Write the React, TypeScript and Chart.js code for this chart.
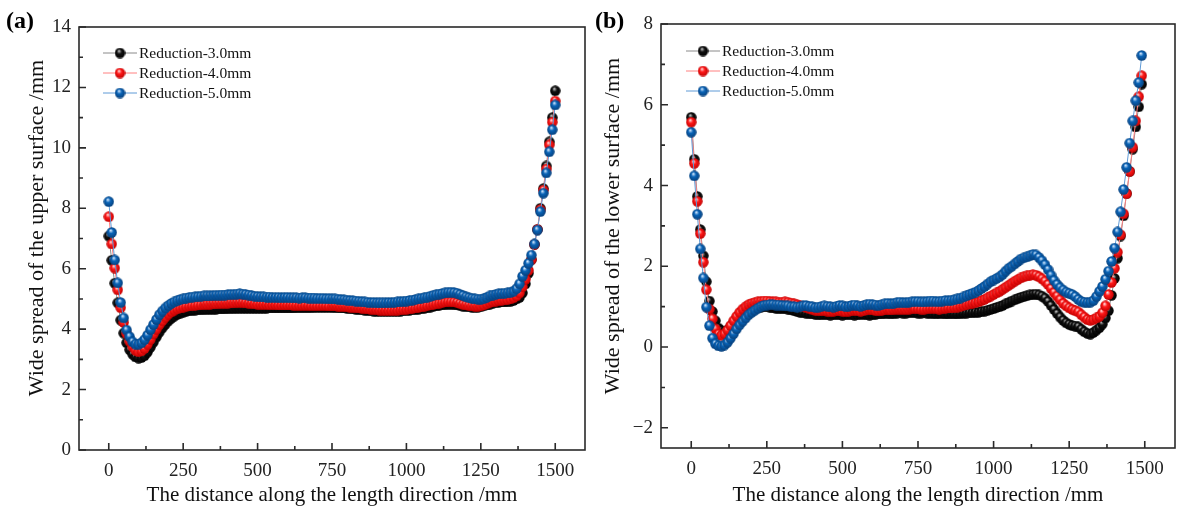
import React, { useEffect, useRef } from "react";
import { Chart, registerables } from "chart.js";

Chart.register(...registerables);

// sampling positions along the strip, mm
const distance = [
  0, 10, 20, 30, 40, 50, 60, 70, 80, 90,
  100, 110, 120, 130, 140, 150, 160, 170, 180, 190,
  200, 210, 220, 230, 240, 250, 260, 270, 280, 290,
  300, 310, 320, 330, 340, 350, 360, 370, 380, 390,
  400, 410, 420, 430, 440, 450, 460, 470, 480, 490,
  500, 510, 520, 530, 540, 550, 560, 570, 580, 590,
  600, 610, 620, 630, 640, 650, 660, 670, 680, 690,
  700, 710, 720, 730, 740, 750, 760, 770, 780, 790,
  800, 810, 820, 830, 840, 850, 860, 870, 880, 890,
  900, 910, 920, 930, 940, 950, 960, 970, 980, 990,
  1000, 1010, 1020, 1030, 1040, 1050, 1060, 1070, 1080, 1090,
  1100, 1110, 1120, 1130, 1140, 1150, 1160, 1170, 1180, 1190,
  1200, 1210, 1220, 1230, 1240, 1250, 1260, 1270, 1280, 1290,
  1300, 1310, 1320, 1330, 1340, 1350, 1360, 1370, 1380, 1390,
  1400, 1410, 1420, 1430, 1440, 1450, 1460, 1470, 1480, 1490,
  1500,
];
const distanceLower = distance.slice(0, 150);

// (a) upper surface
const upper30 = [
  7.08, 6.28, 5.52, 4.87, 4.3, 3.87, 3.55, 3.32, 3.17, 3.08,
  3.04, 3.06, 3.12, 3.24, 3.4, 3.57, 3.74, 3.9, 4.04, 4.16,
  4.27, 4.36, 4.43, 4.49, 4.53, 4.56, 4.59, 4.61, 4.62, 4.63,
  4.64, 4.64, 4.65, 4.65, 4.66, 4.66, 4.66, 4.67, 4.67, 4.67,
  4.68, 4.68, 4.68, 4.69, 4.69, 4.69, 4.69, 4.69, 4.69, 4.69,
  4.69, 4.69, 4.69, 4.69, 4.7, 4.7, 4.7, 4.7, 4.7, 4.7,
  4.7, 4.7, 4.7, 4.71, 4.71, 4.71, 4.71, 4.71, 4.71, 4.72,
  4.72, 4.72, 4.72, 4.72, 4.72, 4.72, 4.71, 4.71, 4.7, 4.7,
  4.69, 4.68, 4.67, 4.66, 4.65, 4.64, 4.63, 4.62, 4.61, 4.6,
  4.6, 4.59, 4.59, 4.59, 4.59, 4.59, 4.59, 4.6, 4.6, 4.61,
  4.62, 4.63, 4.64, 4.65, 4.66, 4.68, 4.69, 4.71, 4.73, 4.75,
  4.77, 4.79, 4.8, 4.81, 4.82, 4.82, 4.81, 4.8, 4.78, 4.76,
  4.75, 4.74, 4.73, 4.73, 4.73, 4.74, 4.77, 4.8, 4.83, 4.86,
  4.88, 4.89, 4.9, 4.9, 4.91, 4.92, 4.95, 5.0, 5.05, 5.2,
  5.5, 5.85, 6.3, 6.8, 7.3, 8.0, 8.65, 9.4, 10.2, 11.0,
  11.89,
];
const upper40 = [
  7.72, 6.82, 6.02, 5.3, 4.71, 4.22, 3.85, 3.6, 3.42, 3.3,
  3.25, 3.28, 3.36, 3.5, 3.66, 3.84, 4.0, 4.15, 4.28, 4.4,
  4.5, 4.57, 4.63, 4.67, 4.7, 4.73, 4.75, 4.77, 4.78, 4.79,
  4.8, 4.81, 4.82, 4.82, 4.83, 4.84, 4.84, 4.85, 4.85, 4.86,
  4.86, 4.87, 4.87, 4.88, 4.88, 4.88, 4.87, 4.86, 4.85, 4.84,
  4.83, 4.83, 4.82, 4.82, 4.81, 4.81, 4.81, 4.8, 4.8, 4.8,
  4.8, 4.8, 4.79, 4.79, 4.79, 4.79, 4.79, 4.79, 4.78, 4.78,
  4.78, 4.78, 4.78, 4.78, 4.77, 4.77, 4.77, 4.76, 4.75, 4.75,
  4.74, 4.73, 4.72, 4.71, 4.7, 4.69, 4.68, 4.67, 4.66, 4.65,
  4.64, 4.63, 4.63, 4.62, 4.62, 4.62, 4.63, 4.63, 4.64, 4.65,
  4.66, 4.67, 4.69, 4.7, 4.72, 4.74, 4.76, 4.78, 4.8, 4.82,
  4.84, 4.86, 4.88, 4.9, 4.91, 4.91, 4.9, 4.88, 4.85, 4.82,
  4.8, 4.78, 4.77, 4.76, 4.76, 4.77, 4.8, 4.84, 4.88, 4.91,
  4.93, 4.95, 4.96, 4.97, 4.98, 5.0, 5.04, 5.1, 5.2, 5.4,
  5.65, 5.95, 6.3, 6.8, 7.3, 7.95, 8.6, 9.3, 10.1, 10.85,
  11.55,
];
const upper50 = [
  8.22, 7.2, 6.29, 5.53, 4.88, 4.37, 3.97, 3.75, 3.58, 3.5,
  3.5, 3.55, 3.65, 3.8, 3.98, 4.15, 4.32, 4.48, 4.6, 4.7,
  4.78, 4.85, 4.9, 4.94, 4.98, 5.0, 5.03, 5.05, 5.06, 5.07,
  5.08, 5.09, 5.1, 5.1, 5.1, 5.11, 5.12, 5.12, 5.13, 5.13,
  5.14, 5.15, 5.15, 5.16, 5.17, 5.16, 5.15, 5.13, 5.11, 5.09,
  5.08, 5.07, 5.07, 5.06, 5.06, 5.05, 5.05, 5.05, 5.04, 5.05,
  5.05, 5.04, 5.04, 5.04, 5.03, 5.04, 5.04, 5.03, 5.03, 5.03,
  5.02, 5.02, 5.02, 5.01, 5.01, 5.0, 5.0, 4.99, 4.98, 4.97,
  4.96, 4.95, 4.94, 4.93, 4.92, 4.91, 4.9, 4.89, 4.88, 4.88,
  4.87, 4.87, 4.87, 4.87, 4.88, 4.88, 4.89, 4.9, 4.91, 4.92,
  4.93, 4.95, 4.96, 4.98, 5.0, 5.02, 5.04, 5.06, 5.09, 5.12,
  5.14, 5.16, 5.18, 5.2, 5.22, 5.22, 5.21, 5.19, 5.15, 5.11,
  5.07, 5.04, 5.02, 5.0, 4.99, 4.99, 5.01, 5.05, 5.1, 5.13,
  5.15, 5.17, 5.18, 5.19, 5.2, 5.22, 5.26, 5.34, 5.5, 5.75,
  5.95, 6.18, 6.45, 6.82, 7.28, 7.89, 8.5, 9.17, 9.87, 10.6,
  11.42,
];

// (b) lower surface
const lower30 = [
  5.69, 4.65, 3.73, 2.91, 2.26, 1.62, 1.14, 0.88, 0.65, 0.47,
  0.4, 0.38, 0.42, 0.5, 0.58, 0.66, 0.74, 0.8, 0.85, 0.89,
  0.93, 0.96, 0.98, 0.99, 1.0, 1.0, 0.99, 0.97, 0.96, 0.95,
  0.95, 0.95, 0.94, 0.92, 0.9, 0.88, 0.86, 0.85, 0.84, 0.83,
  0.82, 0.81, 0.8, 0.8, 0.81, 0.8, 0.79, 0.8, 0.81, 0.8,
  0.79, 0.8, 0.81, 0.8, 0.79, 0.8, 0.81, 0.81, 0.8, 0.79,
  0.8, 0.81, 0.82, 0.82, 0.83, 0.83, 0.82, 0.83, 0.84, 0.85,
  0.84, 0.84, 0.85, 0.86, 0.85, 0.84, 0.84, 0.85, 0.84, 0.83,
  0.83, 0.82, 0.83, 0.83, 0.82, 0.82, 0.83, 0.82, 0.82, 0.83,
  0.84, 0.84, 0.85, 0.85, 0.86, 0.86, 0.88, 0.89, 0.91, 0.93,
  0.95, 0.98, 1.0, 1.03, 1.07, 1.1, 1.14, 1.17, 1.2, 1.23,
  1.25, 1.27, 1.29, 1.3, 1.31, 1.29, 1.26, 1.21, 1.13, 1.03,
  0.93, 0.83, 0.74, 0.66, 0.6, 0.56, 0.53, 0.52, 0.5, 0.44,
  0.38, 0.34, 0.32, 0.36, 0.42, 0.48, 0.57, 0.72, 0.9, 1.28,
  1.7, 2.2, 2.75, 3.25, 3.8, 4.35, 4.9, 5.45, 5.95, 6.51,
];
const lower40 = [
  5.57, 4.55, 3.61, 2.81, 2.1, 1.42, 0.94, 0.7, 0.45, 0.32,
  0.29, 0.33, 0.42, 0.53, 0.65, 0.76, 0.86, 0.94, 1.0, 1.05,
  1.08, 1.1, 1.12, 1.13, 1.14, 1.14, 1.13, 1.12, 1.12, 1.11,
  1.11, 1.12, 1.11, 1.09, 1.07, 1.05, 1.03, 1.01, 0.98, 0.96,
  0.93, 0.91, 0.9, 0.9, 0.9, 0.89, 0.88, 0.89, 0.9, 0.9,
  0.89, 0.88, 0.89, 0.9, 0.91, 0.9, 0.89, 0.9, 0.92, 0.93,
  0.92, 0.9, 0.9, 0.91, 0.92, 0.93, 0.92, 0.93, 0.94, 0.94,
  0.93, 0.93, 0.94, 0.95, 0.95, 0.95, 0.94, 0.94, 0.95, 0.96,
  0.96, 0.95, 0.94, 0.95, 0.96, 0.97, 0.97, 0.98, 0.99, 1.01,
  1.03, 1.05, 1.07, 1.09, 1.1, 1.12, 1.15, 1.18, 1.22, 1.26,
  1.3, 1.34, 1.38, 1.43, 1.48, 1.53, 1.58, 1.63, 1.67, 1.71,
  1.74, 1.76, 1.78, 1.79, 1.78, 1.74, 1.69, 1.63, 1.55, 1.45,
  1.35, 1.26, 1.17, 1.08, 1.02, 0.97, 0.93, 0.9, 0.87, 0.8,
  0.74, 0.68, 0.66, 0.68, 0.72, 0.76, 0.85, 1.02, 1.3, 1.6,
  1.95, 2.35, 2.78, 3.3, 3.8, 4.35, 4.95, 5.6, 6.2, 6.72,
];
const lower50 = [
  5.32, 4.24, 3.29, 2.43, 1.71, 0.99, 0.53, 0.22, 0.08, 0.03,
  0.02, 0.05, 0.12, 0.22, 0.33, 0.45, 0.55, 0.64, 0.72, 0.8,
  0.86, 0.91, 0.96, 1.0, 1.03, 1.04, 1.05, 1.05, 1.04, 1.04,
  1.03, 1.02, 1.02, 1.0, 1.0, 0.99, 1.0, 1.02, 1.03, 1.01,
  1.0, 0.98, 0.99, 1.0, 1.02, 1.01, 1.0, 0.99, 1.01, 1.03,
  1.02, 1.0, 1.01, 1.03, 1.04, 1.02, 1.01, 1.03, 1.05, 1.06,
  1.05, 1.04, 1.03, 1.05, 1.07, 1.08, 1.07, 1.08, 1.1, 1.11,
  1.1, 1.1, 1.11, 1.12, 1.13, 1.13, 1.12, 1.12, 1.13, 1.14,
  1.14, 1.13, 1.13, 1.14, 1.15, 1.15, 1.16, 1.17, 1.19, 1.21,
  1.24, 1.27, 1.3, 1.33, 1.36, 1.4, 1.45, 1.5, 1.56, 1.62,
  1.66, 1.7, 1.74, 1.8, 1.88, 1.95, 2.0, 2.06, 2.12, 2.18,
  2.21, 2.23, 2.26, 2.29, 2.28, 2.22, 2.14, 2.04, 1.92, 1.78,
  1.65, 1.55, 1.47, 1.41, 1.36, 1.33, 1.3, 1.25, 1.18, 1.13,
  1.11, 1.1, 1.11, 1.15, 1.25, 1.38, 1.5, 1.68, 1.88, 2.12,
  2.45, 2.85, 3.35, 3.9, 4.45, 5.05, 5.6, 6.1, 6.55, 7.22,
];

const seriesNames = ["Reduction-3.0mm", "Reduction-4.0mm", "Reduction-5.0mm"];
const xTicks = [0, 250, 500, 750, 1000, 1250, 1500];
const upperTicks = [0, 2, 4, 6, 8, 10, 12, 14];
const lowerTicks = [-2, 0, 2, 4, 6, 8];

const FONT = "'Liberation Serif', 'Times New Roman', serif";

// marker: [sphere base, highlight, shadow, connecting line]
const palette = [
  ["#111111", "#c8c8c8", "#000000", "#8a8a8a"],
  ["#ff1a1a", "#ffe0e0", "#c00000", "#ff8080"],
  ["#0a64b8", "#d6eaff", "#063f7a", "#5f9ad6"],
];

function makeSphere(base: string, light: string, dark: string, size: number) {
  const c = document.createElement("canvas");
  c.width = size;
  c.height = size;
  const g = c.getContext("2d")!;
  const r = size / 2;
  const grad = g.createRadialGradient(r * 0.8, r * 0.6, r * 0.05, r, r, r);
  grad.addColorStop(0, light);
  grad.addColorStop(0.4, base);
  grad.addColorStop(1, dark);
  g.fillStyle = grad;
  g.beginPath();
  g.arc(r, r, r - 0.3, 0, Math.PI * 2);
  g.fill();
  return c;
}

interface PanelProps {
  tag: string;
  xs: number[];
  series: number[][];
  yMin: number;
  yMax: number;
  yTicks: number[];
  yTitle: string;
  width: number;
  yAxisWidth: number;
  xAxisHeight: number;
  padTop: number;
  padRight: number;
  yTitleX: number;
  yTitleY: number;
  tagX: number;
  legendX: number;
  legendY: number;
}

function Panel(p: PanelProps) {
  const ref = useRef<HTMLCanvasElement | null>(null);

  useEffect(() => {
    if (!ref.current) return;
    const spheres = palette.map((c) => makeSphere(c[0], c[1], c[2], 11));

    const frame = {
      id: "frame",
      afterDraw(chart: any) {
        const { ctx, chartArea: a } = chart;
        const sx = chart.scales.x;
        const sy = chart.scales.y;
        ctx.save();
        ctx.strokeStyle = "#2a2a2a";
        ctx.lineWidth = 1.6;
        ctx.strokeRect(a.left, a.top, a.right - a.left, a.bottom - a.top);
        ctx.beginPath();
        xTicks.forEach((v, i) => {
          const px = sx.getPixelForValue(v);
          ctx.moveTo(px, a.bottom);
          ctx.lineTo(px, a.bottom - 7);
          if (i < xTicks.length - 1) {
            const m = sx.getPixelForValue((v + xTicks[i + 1]) / 2);
            ctx.moveTo(m, a.bottom);
            ctx.lineTo(m, a.bottom - 4);
          }
        });
        const ys = p.yTicks;
        const minors = ys.slice(0, -1).map((v, i) => (v + ys[i + 1]) / 2);
        minors.push(ys[0] - (ys[1] - ys[0]) / 2);
        ys.forEach((v) => {
          const py = sy.getPixelForValue(v);
          ctx.moveTo(a.left, py);
          ctx.lineTo(a.left + 7, py);
        });
        minors.forEach((v) => {
          if (v < p.yMin || v > p.yMax) return;
          const py = sy.getPixelForValue(v);
          ctx.moveTo(a.left, py);
          ctx.lineTo(a.left + 4, py);
        });
        ctx.stroke();

        // y title, set a little above the axis centre as in the figure
        ctx.save();
        ctx.translate(p.yTitleX, p.yTitleY);
        ctx.rotate(-Math.PI / 2);
        ctx.font = `22px ${FONT}`;
        ctx.fillStyle = "#111";
        ctx.textAlign = "center";
        ctx.textBaseline = "middle";
        ctx.fillText(p.yTitle, 0, 0);
        ctx.restore();

        // legend
        ctx.font = `15.5px ${FONT}`;
        ctx.textBaseline = "middle";
        ctx.textAlign = "left";
        seriesNames.forEach((name, i) => {
          const y = p.legendY + i * 20;
          ctx.strokeStyle = palette[i][3];
          ctx.lineWidth = 1;
          ctx.beginPath();
          ctx.moveTo(p.legendX, y);
          ctx.lineTo(p.legendX + 34, y);
          ctx.stroke();
          ctx.drawImage(spheres[i], p.legendX + 17 - 5.5, y - 5.5);
          ctx.fillStyle = "#111";
          ctx.fillText(name, p.legendX + 36, y + 1);
        });

        ctx.font = `bold 24px ${FONT}`;
        ctx.fillStyle = "#000";
        ctx.fillText(p.tag, p.tagX, 22);
        ctx.restore();
      },
    };

    const datasets = p.series.map((vals, i) => ({
      label: seriesNames[i],
      data: p.xs.map((x, j) => ({ x, y: vals[j] })),
      borderColor: palette[i][3],
      borderWidth: 1,
      pointStyle: spheres[i] as any,
      pointRadius: 5.5,
      showLine: true,
      tension: 0,
      order: 3 - i,
    }));

    const chart = new Chart(ref.current, {
      type: "line",
      data: { datasets },
      plugins: [frame],
      options: {
        responsive: false,
        animation: false,
        events: [],
        layout: {
          padding: { left: 0, top: p.padTop, right: p.padRight, bottom: 0 },
        },
        plugins: { legend: { display: false }, tooltip: { enabled: false } },
        scales: {
          x: {
            type: "linear",
            min: -100,
            max: 1600,
            afterBuildTicks: (s: any) => {
              s.ticks = xTicks.map((v) => ({ value: v }));
            },
            afterFit: (s: any) => {
              s.height = p.xAxisHeight;
            },
            grid: { display: false, drawTicks: false },
            border: { display: false },
            ticks: {
              padding: 10,
              color: "#222",
              font: { family: FONT, size: 19 },
              maxRotation: 0,
              callback: (v: any) => String(v),
            },
            title: {
              display: true,
              text: "The distance along the length direction /mm",
              color: "#111",
              font: { family: FONT, size: 21 },
              padding: { top: 0, bottom: 6 },
            },
          },
          y: {
            type: "linear",
            min: p.yMin,
            max: p.yMax,
            afterBuildTicks: (s: any) => {
              s.ticks = p.yTicks.map((v) => ({ value: v }));
            },
            afterFit: (s: any) => {
              s.width = p.yAxisWidth;
            },
            grid: { display: false, drawTicks: false },
            border: { display: false },
            ticks: {
              padding: 8,
              color: "#222",
              font: { family: FONT, size: 19 },
              callback: (v: any) => String(v).replace("-", "\u2212"),
            },
            title: { display: false },
          },
        },
      },
    });

    return () => {
      chart.destroy();
    };
  }, []);

  return <canvas ref={ref} width={p.width} height={514} />;
}

export default function App(): React.JSX.Element {
  return (
    <div
      style={{
        position: "absolute",
        left: 0,
        top: 0,
        width: 1183,
        height: 514,
        background: "#fff",
        overflow: "hidden",
      }}
    >
      <div style={{ position: "absolute", left: 0, top: 0 }}>
        <Panel
          tag="(a)"
          xs={distance}
          series={[upper30, upper40, upper50]}
          yMin={0}
          yMax={14}
          yTicks={upperTicks}
          yTitle="Wide spread of the upper surface /mm"
          width={595}
          yAxisWidth={79}
          xAxisHeight={64}
          padTop={27}
          padRight={10}
          yTitleX={37}
          yTitleY={228}
          tagX={6}
          legendX={103}
          legendY={53}
        />
      </div>
      <div style={{ position: "absolute", left: 595, top: 0 }}>
        <Panel
          tag="(b)"
          xs={distanceLower}
          series={[lower30, lower40, lower50]}
          yMin={-2.5}
          yMax={8}
          yTicks={lowerTicks}
          yTitle="Wide spread of the lower surface /mm"
          width={588}
          yAxisWidth={66}
          xAxisHeight={66}
          padTop={24}
          padRight={8}
          yTitleX={18}
          yTitleY={226}
          tagX={0}
          legendX={91}
          legendY={51}
        />
      </div>
    </div>
  );
}
